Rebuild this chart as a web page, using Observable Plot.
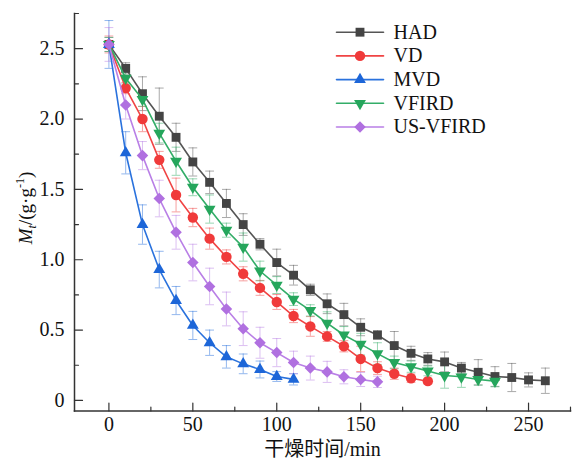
<!DOCTYPE html>
<html><head><meta charset="utf-8">
<script src="https://cdn.jsdelivr.net/npm/d3@7"></script>
<script src="https://cdn.jsdelivr.net/npm/@observablehq/plot@0.6"></script>
<style>body{margin:0;background:#fff}#chart{width:572px;height:459px}</style>
</head><body><div id="chart"></div>
<script>
const seriesNames = ["HAD", "VD", "MVD", "VFIRD", "US-VFIRD"];
const timeHAD = [0,10,20,30,40,50,60,70,80,90,100,110,120,130,140,150,160,170,180,190,200,210,220,230,240,250,260];
const valHAD = [2.53,2.36,2.18,2.02,1.87,1.695,1.55,1.40,1.25,1.11,0.98,0.89,0.786,0.687,0.61,0.52,0.465,0.39,0.335,0.295,0.274,0.23,0.20,0.17,0.163,0.146,0.14];
const errHAD = [0.05,0.04,0.12,0.2,0.1,0.1,0.08,0.1,0.077,0.04,0.095,0.07,0.04,0.07,0.08,0.06,0.03,0.1,0.05,0.045,0.07,0.04,0.09,0.07,0.1,0.05,0.09];
const timeVD = [0,10,20,30,40,50,60,70,80,90,100,110,120,130,140,150,160,170,180,190];
const valVD = [2.53,2.22,2.0,1.71,1.46,1.30,1.15,1.02,0.90,0.80,0.70,0.60,0.526,0.455,0.385,0.295,0.23,0.19,0.158,0.137];
const errVD = [0.06,0.04,0.09,0.06,0.12,0.065,0.075,0.05,0.05,0.053,0.053,0.047,0.07,0.035,0.04,0.09,0.045,0.04,0.03,0.02];
const timeMVD = [0,10,20,30,40,50,60,70,80,90,100,110];
const valMVD = [2.53,1.76,1.25,0.93,0.71,0.533,0.41,0.31,0.26,0.22,0.17,0.15];
const errMVD = [0.17,0.15,0.14,0.13,0.1,0.1,0.09,0.08,0.07,0.06,0.035,0.04];
const timeVFIRD = [0,10,20,30,40,50,60,70,80,90,100,110,120,130,140,150,160,170,180,190,200,210,220,230];
const valVFIRD = [2.53,2.29,2.14,1.90,1.70,1.515,1.36,1.21,1.09,0.92,0.82,0.72,0.64,0.55,0.465,0.40,0.333,0.27,0.24,0.21,0.177,0.168,0.149,0.137];
const errVFIRD = [0.05,0.04,0.05,0.07,0.1,0.06,0.1,0.05,0.1,0.07,0.06,0.045,0.04,0.08,0.06,0.077,0.077,0.045,0.04,0.035,0.09,0.075,0.04,0.04];
const timeUS = [0,10,20,30,40,50,60,70,80,90,100,110,120,130,140,150,160];
const valUS = [2.53,2.10,1.74,1.435,1.195,0.98,0.81,0.65,0.51,0.41,0.34,0.27,0.23,0.203,0.168,0.149,0.132];
const errUS = [0.12,0.1,0.1,0.13,0.12,0.13,0.13,0.12,0.12,0.11,0.1,0.08,0.085,0.075,0.05,0.05,0.04];

const xTicks = [0,50,100,150,200,250];
const xMinorTicks = [25,75,125,175,225,275];
const yTicks = [0,0.5,1.0,1.5,2.0,2.5];
const yMinorTicks = [0.25,0.75,1.25,1.75,2.25,2.75];

const style = [
  {line:"#555555", fill:"#444444", symbol:"square", r:5.0, rotate:0},
  {line:"#f04444", fill:"#f03a3a", symbol:"circle", r:5.2, rotate:0},
  {line:"#2a72dd", fill:"#1d66d8", symbol:"triangle", r:4.4, rotate:0},
  {line:"#33ad68", fill:"#25a65c", symbol:"triangle", r:4.4, rotate:180},
  {line:"#b97fe6", fill:"#b070e0", symbol:"square", r:4.6, rotate:45}
];
const raw = [[timeHAD,valHAD,errHAD],[timeVD,valVD,errVD],[timeMVD,valMVD,errMVD],[timeVFIRD,valVFIRD,errVFIRD],[timeUS,valUS,errUS]];
const tables = raw.map(([t,v,e],k) => t.map((time,i) => ({series: seriesNames[k], time, value: v[i], err: e[i]})));

const seg = {draw(ctx, l) { ctx.moveTo(0, 0); ctx.lineTo(0, -l); }};
const marks = [];
tables.forEach((rows, k) => {
  const s = style[k];
  marks.push(
    Plot.ruleX(rows, {x:"time", y1: d => d.value - d.err, y2: d => d.value + d.err, stroke: s.line, strokeOpacity: 0.5, strokeWidth: 1}),
    Plot.vector(rows, {x:"time", y: d => d.value + d.err, rotate: 90, length: 8, anchor: "middle", shape: seg, stroke: s.line, strokeOpacity: 0.5, strokeWidth: 1}),
    Plot.vector(rows, {x:"time", y: d => d.value - d.err, rotate: 90, length: 8, anchor: "middle", shape: seg, stroke: s.line, strokeOpacity: 0.5, strokeWidth: 1})
  );
});
tables.forEach((rows, k) => {
  const s = style[k];
  marks.push(
    Plot.line(rows, {x:"time", y:"value", stroke: s.line, strokeWidth: 1.6}),
    Plot.dot(rows, {x:"time", y:"value", symbol: s.symbol, r: s.r, fill: s.fill, rotate: s.rotate, stroke: "none"})
  );
});
// legend
seriesNames.forEach((name, k) => {
  const s = style[k];
  const dy = 18.7 + 23.7 * k;
  marks.push(
    Plot.vector([name], {frameAnchor: "top-left", dx: 285.5, dy, rotate: 90, length: 47, anchor: "middle", shape: seg, stroke: s.line, strokeWidth: 1.6}),
    Plot.dot([name], {frameAnchor: "top-left", dx: 285.5, dy, symbol: s.symbol, r: s.r, fill: s.fill, rotate: s.rotate, stroke: "none"}),
    Plot.text([name], {frameAnchor: "top-left", dx: 319, dy, text: d => d, textAnchor: "start", lineAnchor: "middle", fontSize: 20, fill: "#111"})
  );
});

const chart = Plot.plot({
  width: 572, height: 459,
  marginLeft: 74, marginRight: 2, marginTop: 13, marginBottom: 48.5,
  style: {fontFamily: "'Liberation Serif', 'Noto Sans CJK SC', serif", fontSize: "20px", color: "#111", background: "#fff"},
  x: {domain: [-20.5, 275]},
  y: {domain: [-0.075, 2.75]},
  marks: [
    ...marks,
    Plot.frame({anchor: "left", stroke: "#333", strokeWidth: 1.5}),
    Plot.frame({anchor: "bottom", stroke: "#333", strokeWidth: 1.5}),
    Plot.vector(xTicks, {x: d => d, frameAnchor: "bottom", rotate: 0, length: 8, anchor: "start", shape: seg, stroke: "#333", strokeWidth: 1.2}),
    Plot.vector(xMinorTicks, {x: d => d, frameAnchor: "bottom", rotate: 0, length: 4, anchor: "start", shape: seg, stroke: "#333", strokeWidth: 1.2}),
    Plot.vector(yTicks, {y: d => d, frameAnchor: "left", rotate: 90, length: 8, anchor: "start", shape: seg, stroke: "#333", strokeWidth: 1.2}),
    Plot.vector(yMinorTicks, {y: d => d, frameAnchor: "left", rotate: 90, length: 4, anchor: "start", shape: seg, stroke: "#333", strokeWidth: 1.2}),
    Plot.axisX({ticks: xTicks, tickSize: 0, tickPadding: 6, label: null}),
    Plot.axisY({ticks: yTicks, tickSize: 0, tickPadding: 10, label: null, tickFormat: d => d === 0 ? "0" : d.toFixed(1)}),
    Plot.text(["干燥时间/min"], {frameAnchor: "bottom", dy: 38.5, text: d => d, lineAnchor: "middle", fontSize: 20, fill: "#111"})
  ]
});
document.getElementById("chart").appendChild(chart);

// y-axis label with italic M and subscript/superscript
const svg = d3.select(chart);
const yl = svg.append("text")
  .attr("transform", "translate(32,208) rotate(-90)")
  .attr("text-anchor", "middle")
  .attr("fill", "#111")
  .style("font-family", "'Liberation Serif', serif")
  .style("font-size", "19px");
yl.append("tspan").style("font-style", "italic").text("M");
yl.append("tspan").style("font-style", "italic").style("font-size", "12px").attr("dy", 4).text("t");
yl.append("tspan").attr("dy", -4).text("/(g·g");
yl.append("tspan").style("font-size", "12px").attr("dy", -8).text("-1");
yl.append("tspan").attr("dy", 8).text(")");
</script>
</body></html>
